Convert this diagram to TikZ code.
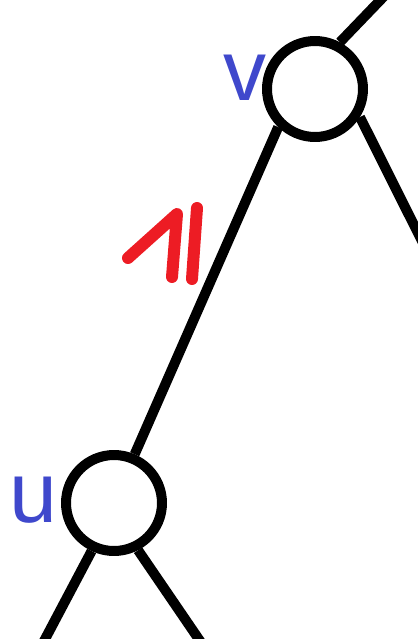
\documentclass[tikz,border=0pt]{standalone}
\usepackage{fontspec}
\setmainfont{Liberation Sans}
\definecolor{labelblue}{HTML}{3F48CC}
\definecolor{markred}{HTML}{ED1C24}

\begin{document}
\begin{tikzpicture}[x=0.02cm,y=-0.02cm,line cap=round,line join=round,
    treenode/.style={circle,draw,line width=0.2cm,minimum size=1.92cm,inner sep=0pt},
    treeedge/.style={line width=0.2cm,line cap=butt},
    vlabel/.style={text=labelblue,inner sep=0pt,font=\fontsize{49}{50}\selectfont}]
  \useasboundingbox (0,0) rectangle (418,639);
  \begin{scope}
    \clip (0,0) rectangle (418,639);

    % the two nodes
    \node[treenode] (v) at (315,89) {};
    \node[treenode] (u) at (114,503) {};
    \node[vlabel] (vname) at (245,78) {v};
    \node[vlabel] (uname) at (33,500) {u};

    % loose ends leaving the picture
    \coordinate (vparent) at (392,-12);
    \coordinate (vright) at (440,277);
    \coordinate (uleft) at (34,660);
    \coordinate (uright) at (213,660);

    \draw[treeedge] (v.62) -- (vparent);
    \draw[treeedge] (v.328) -- (vright);
    \draw[treeedge] (v.226) -- (u.67);
    \draw[treeedge] (u.245) -- (uleft);
    \draw[treeedge] (u.297) -- (uright);

    % hand drawn mark on the edge
    \draw[markred,line width=0.24cm] (128,258) -- (177,214) -- (172,277);
    \draw[markred,line width=0.24cm] (197,208) -- (192,279);
  \end{scope}
\end{tikzpicture}
\end{document}
